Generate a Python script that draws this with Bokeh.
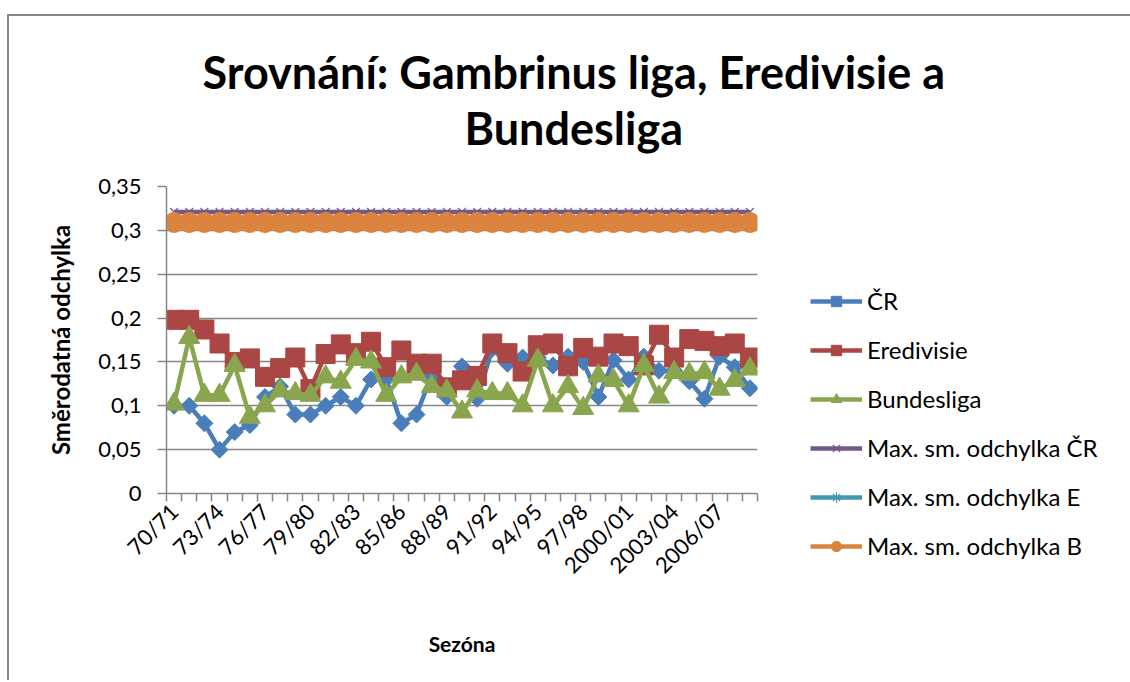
import math
from bokeh.plotting import figure
from bokeh.models import Range1d, FixedTicker, Legend, LegendItem, Title
from bokeh.embed import file_html
from bokeh.resources import INLINE

# ---------------- data ----------------
seasons = ["70/71", "71/72", "72/73", "73/74", "74/75", "75/76", "76/77", "77/78", "78/79", "79/80",
           "80/81", "81/82", "82/83", "83/84", "84/85", "85/86", "86/87", "87/88", "88/89", "89/90",
           "90/91", "91/92", "92/93", "93/94", "94/95", "95/96", "96/97", "97/98", "98/99", "99/00",
           "2000/01", "2001/02", "2002/03", "2003/04", "2004/05", "2005/06", "2006/07", "2007/08", "2008/09"]

cr = [0.10, 0.10, 0.08, 0.05, 0.07, 0.078, 0.11, 0.122, 0.09, 0.09,
      0.10, 0.11, 0.10, 0.13, 0.13, 0.08, 0.09, 0.135, 0.11, 0.145,
      0.108, 0.165, 0.148, 0.155, 0.155, 0.146, 0.156, 0.15, 0.11, 0.152,
      0.13, 0.156, 0.14, 0.14, 0.128, 0.108, 0.156, 0.144, 0.12]

eredivisie = [0.198, 0.198, 0.187, 0.171, 0.15, 0.154, 0.133, 0.143, 0.155, 0.119,
              0.159, 0.17, 0.16, 0.173, 0.144, 0.163, 0.148, 0.148, 0.121, 0.129,
              0.134, 0.171, 0.16, 0.139, 0.169, 0.171, 0.145, 0.166, 0.156, 0.171,
              0.168, 0.146, 0.181, 0.155, 0.176, 0.174, 0.168, 0.171, 0.155]

bundesliga = [0.102, 0.178, 0.112, 0.112, 0.146, 0.087, 0.10, 0.117, 0.114, 0.112,
              0.133, 0.127, 0.153, 0.15, 0.112, 0.133, 0.136, 0.122, 0.117, 0.093,
              0.117, 0.114, 0.114, 0.10, 0.152, 0.10, 0.122, 0.097, 0.134, 0.129,
              0.10, 0.146, 0.11, 0.138, 0.136, 0.138, 0.119, 0.129, 0.142]

max_cr = 0.321
max_e = 0.310
max_b = 0.309

y_ticks = [0, 0.05, 0.1, 0.15, 0.2, 0.25, 0.3, 0.35]
y_tick_labels = ["0", "0,05", "0,1", "0,15", "0,2", "0,25", "0,3", "0,35"]
label_every = 3

series_names = ["ČR", "Eredivisie", "Bundesliga",
                "Max. sm. odchylka ČR", "Max. sm. odchylka E", "Max. sm. odchylka B"]
title_lines = ["Srovnání: Gambrinus liga, Eredivisie a", "Bundesliga"]

# ---------------- figure ----------------
n = len(seasons)
xs = [i + 0.5 for i in range(n)]

FONT = "Lato"
GRID = "#868686"

p = figure(frame_width=591, frame_height=307,
           x_range=Range1d(0, n), y_range=Range1d(y_ticks[0], y_ticks[-1]),
           output_backend="svg", toolbar_location=None,
           min_border_left=157, min_border_right=4,
           min_border_top=170, min_border_bottom=187)
p.styles = {"border-left": "2px solid #868686", "border-top": "2px solid #868686",
            "margin-top": "14px", "margin-left": "7px"}
p.outline_line_color = None
p.background_fill_color = "white"
p.border_fill_color = "white"

# y axis
yt = FixedTicker(ticks=y_ticks)
p.yaxis.ticker = yt
p.yaxis.major_label_overrides = {v: s for v, s in zip(y_ticks, y_tick_labels)}
p.yaxis.minor_tick_line_color = None
p.yaxis.major_tick_in = 0
p.yaxis.major_tick_out = 9
p.yaxis.major_label_standoff = 16
p.yaxis.axis_line_color = GRID
p.yaxis.axis_line_width = 1.5
p.yaxis.major_tick_line_color = GRID
p.yaxis.major_tick_line_width = 1.5
p.yaxis.major_label_text_font = FONT
p.yaxis.major_label_text_font_size = "22px"
p.yaxis.major_label_text_color = "black"
p.yaxis.axis_label = "Směrodatná odchylka"
p.yaxis.axis_label_text_font = FONT
p.yaxis.axis_label_text_font_style = "bold"
p.yaxis.axis_label_text_font_size = "24px"
p.yaxis.axis_label_text_color = "black"
p.yaxis.axis_label_standoff = 20

p.ygrid.ticker = yt
p.ygrid.grid_line_color = GRID
p.ygrid.grid_line_width = 1.3
p.xgrid.visible = False

# x axis: labels every 3rd category, ticks at category boundaries
lab_pos = [xs[i] for i in range(0, n, label_every)]
xt = FixedTicker(ticks=lab_pos, minor_ticks=list(range(n + 1)))
p.xaxis.ticker = xt
p.xaxis.major_label_overrides = {xs[i]: seasons[i] for i in range(0, n, label_every)}
p.xaxis.major_tick_in = 0
p.xaxis.major_tick_out = 0
p.xaxis.minor_tick_in = 0
p.xaxis.minor_tick_out = 8
p.xaxis.minor_tick_line_color = GRID
p.xaxis.minor_tick_line_width = 1.5
p.xaxis.axis_line_color = GRID
p.xaxis.axis_line_width = 1.5
p.xaxis.major_label_orientation = math.pi / 4
p.xaxis.major_label_standoff = 6
p.xaxis.major_label_text_font = FONT
p.xaxis.major_label_text_font_size = "22px"
p.xaxis.major_label_text_color = "black"
p.xaxis.axis_label = "Sezóna"
p.xaxis.axis_label_text_font = FONT
p.xaxis.axis_label_text_font_style = "bold"
p.xaxis.axis_label_text_font_size = "21px"
p.xaxis.axis_label_text_color = "black"
p.xaxis.axis_label_standoff = 40

# ---------------- series ----------------
c_blue, c_red, c_green = "#4A7EBB", "#AA4643", "#89A54E"
c_purple, c_cyan, c_orange = "#71588F", "#4198AF", "#DB843D"
LW = 4.5

items = []

def add_series(ys, color, marker, size, name, angle=0.0, lw=LW):
    l = p.line(xs, ys, line_color=color, line_width=lw, line_join="round")
    kw = dict(marker=marker, size=size, angle=angle, line_color=color)
    if marker in ("x", "asterisk"):
        kw["line_width"] = 1.2
    else:
        kw["fill_color"] = color
        kw["line_width"] = 1
    s = p.scatter(xs, ys, **kw)
    items.append(LegendItem(label=name, renderers=[l, s]))

add_series(cr, c_blue, "square", 12, series_names[0], angle=math.pi / 4)
add_series(eredivisie, c_red, "square", 19, series_names[1])
add_series(bundesliga, c_green, "triangle", 21, series_names[2])
add_series([max_cr] * n, c_purple, "x", 11, series_names[3])
add_series([max_e] * n, c_cyan, "asterisk", 11, series_names[4])
add_series([max_b] * n, c_orange, "circle", 20, series_names[5])

legend = Legend(items=items, location="top_left",
                title=" ", title_text_font_size="24px", title_standoff=19,
                glyph_width=52, glyph_height=26, label_height=26, spacing=20,
                label_standoff=5, padding=0, margin=53,
                label_text_font=FONT, label_text_font_size="24px",
                label_text_color="black",
                background_fill_alpha=0, border_line_color=None)
p.add_layout(legend, "right")

# ---------------- title (two lines above the plot) ----------------
spacer = Title(text=" ", text_font_size="20px", standoff=8)
p.add_layout(spacer, "above")
t2 = Title(text=title_lines[1], align="left", offset=298,
           text_font=FONT, text_font_style="bold", text_font_size="45px",
           text_color="black", standoff=0)
p.add_layout(t2, "above")
t1 = Title(text=title_lines[0], align="left", offset=36,
           text_font=FONT, text_font_style="bold", text_font_size="45px",
           text_color="black", standoff=0)
p.add_layout(t1, "above")

open("out.html", "w").write(file_html(p, INLINE))
